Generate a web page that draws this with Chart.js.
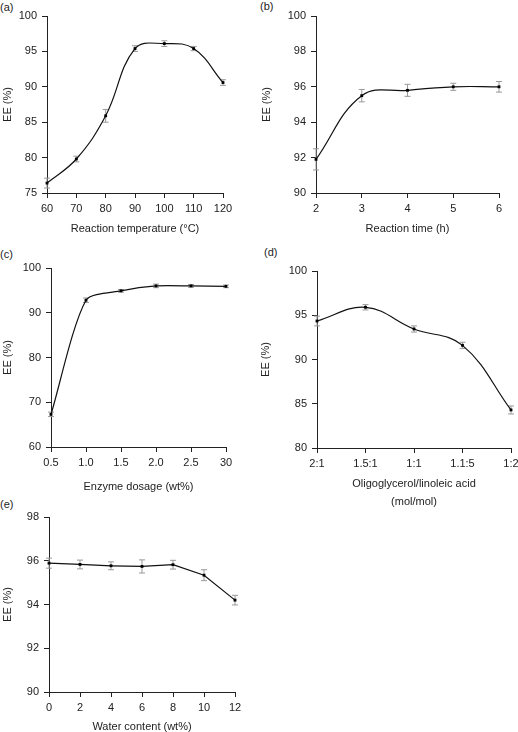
<!DOCTYPE html>
<html>
<head>
<meta charset="utf-8">
<script src="https://cdn.jsdelivr.net/npm/chart.js@4.4.1/dist/chart.umd.min.js"></script>
<style>
  body { margin: 0; width: 518px; height: 732px; overflow: hidden; background: #fff; position: relative;
         font-family: "Liberation Sans", Arial, sans-serif; }
  canvas { position: absolute; }
  .lbl { position: absolute; font-size: 11px; color: #222; line-height: 13px; }
</style>
</head>
<body>
<div class="lbl" style="left:0px;top:1px">(a)</div>
<div class="lbl" style="left:260px;top:0px">(b)</div>
<div class="lbl" style="left:0px;top:248px">(c)</div>
<div class="lbl" style="left:264px;top:246px">(d)</div>
<div class="lbl" style="left:0px;top:498px">(e)</div>
<canvas id="chartA"></canvas>
<canvas id="chartB"></canvas>
<canvas id="chartC"></canvas>
<canvas id="chartD"></canvas>
<canvas id="chartE"></canvas>
<script>
// (a) reaction temperature
const tempX = [60, 70, 80, 90, 100, 110, 120];
const tempEE = [76.4, 79.8, 85.9, 95.4, 96.1, 95.4, 90.6];
const tempErr = [0.7, 0.4, 0.9, 0.4, 0.4, 0.3, 0.4];

// (b) reaction time
const timeX = [2, 3, 4, 5, 6];
const timeEE = [91.9, 95.5, 95.8, 96.0, 96.0];
const timeErr = [0.6, 0.35, 0.34, 0.2, 0.3];

// (c) enzyme dosage
const dosageLabels = ["0.5", "1.0", "1.5", "2.0", "2.5", "30"];
const dosageEE = [67.3, 92.8, 94.9, 96.0, 96.0, 95.9];
const dosageErr = [0.5, 0.5, 0.3, 0.4, 0.3, 0.3];

// (d) molar ratio
const ratioLabels = ["2:1", "1.5:1", "1:1", "1.1:5", "1:2"];
const ratioEE = [94.35, 95.9, 93.45, 91.6, 84.3];
const ratioErr = [0.55, 0.3, 0.35, 0.35, 0.45];

// (e) water content
const waterX = [0, 2, 4, 6, 8, 10, 12];
const waterEE = [95.89, 95.83, 95.77, 95.74, 95.82, 95.34, 94.2];
const waterErr = [0.23, 0.2, 0.18, 0.3, 0.2, 0.25, 0.22];

const FONT = { family: '"Liberation Sans", Arial, sans-serif', size: 11 };
const INK = "#222";

// draws the gray error bars from the point positions and the y scale
const errorBars = {
  id: "errorBars",
  beforeDatasetsDraw(chart, args, opts) {
    const ctx = chart.ctx;
    const y = chart.scales.y;
    const pts = chart.getDatasetMeta(0).data;
    const vals = chart.data.datasets[0].data;
    ctx.save();
    ctx.strokeStyle = "#999";
    ctx.lineWidth = 1;
    pts.forEach((p, i) => {
      const v = typeof vals[i] === "object" ? vals[i].y : vals[i];
      const e = opts.err[i];
      const top = y.getPixelForValue(v + e);
      const bot = y.getPixelForValue(v - e);
      ctx.beginPath();
      ctx.moveTo(p.x, top); ctx.lineTo(p.x, bot);
      ctx.moveTo(p.x - 3, top); ctx.lineTo(p.x + 3, top);
      ctx.moveTo(p.x - 3, bot); ctx.lineTo(p.x + 3, bot);
      ctx.stroke();
    });
    ctx.restore();
  }
};

function axisBase() {
  return {
    grid: { display: true, drawOnChartArea: false, drawTicks: true, tickLength: 5, color: INK },
    border: { display: true, color: INK, width: 1 },
    ticks: { color: INK, font: FONT, maxRotation: 0, autoSkip: false }
  };
}

function makePanel(id, box, area, p) {
  const cv = document.getElementById(id);
  cv.width = box.w; cv.height = box.h;
  cv.style.left = box.x + "px"; cv.style.top = box.y + "px";
  cv.style.width = box.w + "px"; cv.style.height = box.h + "px";

  const xAxis = axisBase();
  xAxis.type = p.xType;
  xAxis.ticks.padding = 4;
  xAxis.title = { display: true, text: p.xTitle, color: INK, font: Object.assign({ lineHeight: p.xLine || 1.2 }, FONT),
                  padding: { top: 0, bottom: p.xPad !== undefined ? p.xPad : 4 } };
  if (p.xType === "linear") { xAxis.min = p.xMin; xAxis.max = p.xMax; xAxis.ticks.stepSize = p.xStep; }
  xAxis.afterFit = (s) => { s.height = box.y + box.h - area.b; };

  const yAxis = axisBase();
  yAxis.min = p.yMin; yAxis.max = p.yMax;
  yAxis.ticks.stepSize = p.yStep;
  yAxis.ticks.padding = 5;
  yAxis.title = { display: true, text: "EE (%)", color: INK, font: FONT, padding: { top: 1, bottom: 0 } };
  yAxis.afterFit = (s) => { s.width = area.l - box.x; };

  const data = p.xType === "linear" ? p.x.map((x, i) => ({ x: x, y: p.y[i] })) : p.y;

  new Chart(cv, {
    type: "line",
    data: {
      labels: p.xType === "linear" ? undefined : p.x,
      datasets: [{
        data: data,
        borderColor: "#111",
        borderWidth: 1.2,
        tension: p.tension,
        pointStyle: "rect",
        pointRadius: 2,
        pointBackgroundColor: "#000",
        pointBorderColor: "#000",
        pointBorderWidth: 0,
        clip: false
      }]
    },
    options: {
      responsive: false,
      animation: false,
      devicePixelRatio: 1,
      layout: { padding: { left: 0, bottom: 0, top: area.t - box.y, right: box.x + box.w - area.r } },
      plugins: { legend: { display: false }, tooltip: { enabled: false }, errorBars: { err: p.err } },
      scales: { x: xAxis, y: yAxis }
    },
    plugins: [errorBars]
  });
}

makePanel("chartA", { x: 0, y: 0, w: 259, h: 240 }, { l: 47, t: 16, r: 223, b: 193 },
  { xType: "linear", x: tempX, y: tempEE, err: tempErr, xMin: 60, xMax: 120, xStep: 10,
    yMin: 75, yMax: 100, yStep: 5, tension: 0.4, xTitle: "Reaction temperature (°C)" });

makePanel("chartB", { x: 259, y: 0, w: 259, h: 240 }, { l: 316, t: 16, r: 499, b: 193 },
  { xType: "linear", x: timeX, y: timeEE, err: timeErr, xMin: 2, xMax: 6, xStep: 1,
    yMin: 90, yMax: 100, yStep: 2, tension: 0.4, xTitle: "Reaction time (h)" });

makePanel("chartC", { x: 0, y: 240, w: 259, h: 258 }, { l: 51, t: 268, r: 226, b: 447 },
  { xType: "category", x: dosageLabels, y: dosageEE, err: dosageErr,
    yMin: 60, yMax: 100, yStep: 10, tension: 0.25, xTitle: "Enzyme dosage (wt%)" });

makePanel("chartD", { x: 258, y: 240, w: 270, h: 271 }, { l: 317, t: 271, r: 511, b: 448 },
  { xType: "category", x: ratioLabels, y: ratioEE, err: ratioErr,
    yMin: 80, yMax: 100, yStep: 5, tension: 0.4, xLine: 1.65, xPad: 0,
    xTitle: ["Oligoglycerol/linoleic acid", "(mol/mol)"] });

makePanel("chartE", { x: 0, y: 490, w: 259, h: 248 }, { l: 49, t: 517, r: 235, b: 692 },
  { xType: "linear", x: waterX, y: waterEE, err: waterErr, xMin: 0, xMax: 12, xStep: 2,
    yMin: 90, yMax: 98, yStep: 2, tension: 0, xTitle: "Water content (wt%)" });
</script>
</body>
</html>
